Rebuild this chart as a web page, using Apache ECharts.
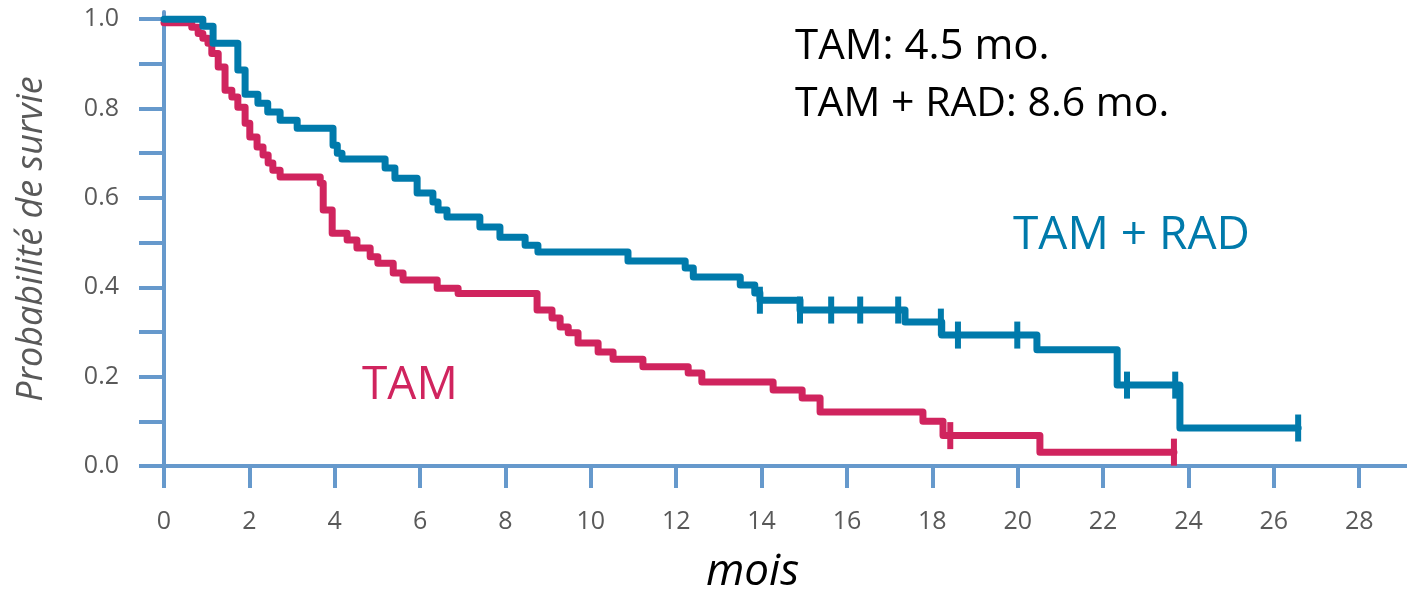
<!DOCTYPE html>
<html>
<head>
<meta charset="utf-8">
<script src="https://cdn.jsdelivr.net/npm/echarts@6/dist/echarts.min.js"></script>
<style>
html,body{margin:0;padding:0;background:#fff;}
#chart{width:1407px;height:594px;}
</style>
</head>
<body>
<div id="chart"></div>
<script>
// ---- data ----
const xTicks = [0,2,4,6,8,10,12,14,16,18,20,22,24,26,28];
const yTicks = [0,0.1,0.2,0.3,0.4,0.5,0.6,0.7,0.8,0.9,1.0];
const yLabels = [0,0.2,0.4,0.6,0.8,1.0];

// TAM + RAD (blue) : step start times and survival after each step
const tamRadTimes  = [0,0.91,1.15,1.73,1.90,2.20,2.43,2.72,3.12,3.96,4.06,4.17,5.18,5.41,5.93,6.30,6.42,6.63,7.40,7.87,8.46,8.76,10.87,12.21,12.40,13.50,13.84,13.96,14.90,17.36,18.22,20.45,22.33,23.80,26.57];
const tamRadValues = [1.0,0.984,0.946,0.886,0.832,0.812,0.792,0.774,0.756,0.718,0.700,0.687,0.667,0.644,0.611,0.591,0.573,0.557,0.535,0.512,0.494,0.479,0.459,0.443,0.423,0.405,0.387,0.371,0.349,0.322,0.293,0.260,0.181,0.085,0.085];
const tamRadCensorTimes  = [13.96,14.90,15.63,16.31,17.20,18.20,18.60,19.99,22.56,23.69,26.57];
const tamRadCensorValues = [0.371,0.349,0.349,0.349,0.349,0.322,0.293,0.293,0.181,0.181,0.085];

// TAM (red)
const tamTimes  = [0,0.65,0.80,0.91,1.03,1.12,1.27,1.43,1.59,1.73,1.90,2.01,2.18,2.32,2.44,2.55,2.72,3.66,3.73,3.94,4.29,4.52,4.83,5.01,5.37,5.60,6.40,6.89,8.74,9.09,9.28,9.47,9.70,10.17,10.52,11.22,12.28,12.60,14.27,14.95,15.37,17.78,18.25,20.52,23.66];
const tamValues = [0.992,0.982,0.968,0.957,0.946,0.923,0.893,0.841,0.826,0.803,0.767,0.736,0.714,0.696,0.678,0.662,0.647,0.633,0.573,0.521,0.506,0.488,0.468,0.454,0.432,0.416,0.398,0.386,0.349,0.331,0.311,0.298,0.275,0.255,0.239,0.222,0.208,0.188,0.170,0.152,0.121,0.100,0.068,0.031,0.031];
const tamCensorTimes  = [18.42,23.66];
const tamCensorValues = [0.068,0.031];

const annotations = ['TAM: 4.5 mo.','TAM + RAD: 8.6 mo.'];
const seriesNames = ['TAM + RAD','TAM'];

// ---- styles ----
const FONT = '"Open Sans", "Noto Sans", sans-serif';
const AXIS = '#6699CC';
const BLUE = '#007AAB';
const RED = '#D0245E';
const LABEL = '#595959';

const zip = (a,b) => a.map((v,i)=>[v,b[i]]);

const chart = echarts.init(document.getElementById('chart'), null, {renderer:'canvas'});
chart.setOption({
  animation:false,
  backgroundColor:'#fff',
  textStyle:{fontFamily:FONT},
  title:[
    {text:annotations[0], left:795, top:26, padding:0, textStyle:{fontFamily:FONT,fontSize:42,fontWeight:'normal',color:'#000'}},
    {text:annotations[1], left:795, top:84, padding:0, textStyle:{fontFamily:FONT,fontSize:41,fontWeight:'normal',color:'#000'}},
    {text:seriesNames[0], left:1013, top:213, padding:0, textStyle:{fontFamily:FONT,fontSize:46,fontWeight:'normal',color:BLUE}},
    {text:seriesNames[1], left:362, top:363, padding:0, textStyle:{fontFamily:FONT,fontSize:46,fontWeight:'normal',color:RED}}
  ],
  grid:{left:150,right:0,top:12,bottom:128,containLabel:false,outerBoundsMode:'none'},
  xAxis:{
    type:'value', min:-0.328, max:29.12,
    axisLine:{show:true,onZero:true,lineStyle:{color:AXIS,width:4}},
    axisTick:{show:true,customValues:xTicks,length:22,lineStyle:{color:AXIS,width:4}},
    axisLabel:{customValues:xTicks,margin:43,fontSize:25,color:LABEL,fontFamily:FONT},
    splitLine:{show:false},
    name:'mois', nameLocation:'middle', nameGap:84,
    nameTextStyle:{fontFamily:FONT,fontSize:44,fontStyle:'italic',color:'#000',padding:[0,52,0,0]}
  },
  yAxis:{
    type:'value', min:0, max:1.016,
    axisLine:{show:true,onZero:true,lineStyle:{color:AXIS,width:4}},
    axisTick:{show:true,customValues:yTicks,length:25,lineStyle:{color:AXIS,width:4}},
    axisLabel:{customValues:yLabels,margin:31,fontSize:25,color:LABEL,fontFamily:FONT,formatter:v=>Number(v).toFixed(1)},
    splitLine:{show:false},
    name:'Probabilité de survie', nameLocation:'middle', nameGap:100, nameRotate:90,
    nameTextStyle:{fontFamily:FONT,fontSize:36,fontStyle:'italic',color:LABEL}
  },
  series:[
    {name:'TAM', type:'line', step:'end', showSymbol:false, data:zip(tamTimes,tamValues),
     lineStyle:{color:RED,width:7,cap:'round',join:'round'}, z:2},
    {name:'TAM + RAD', type:'line', step:'end', showSymbol:false, data:zip(tamRadTimes,tamRadValues),
     lineStyle:{color:BLUE,width:7,cap:'round',join:'round'}, z:3},
    {name:'TAM censor', type:'scatter', symbol:'rect', symbolSize:[6,27], data:zip(tamCensorTimes,tamCensorValues),
     itemStyle:{color:RED,opacity:1}, z:4},
    {name:'TAM + RAD censor', type:'scatter', symbol:'rect', symbolSize:[6,27], data:zip(tamRadCensorTimes,tamRadCensorValues),
     itemStyle:{color:BLUE,opacity:1}, z:4}
  ]
});
</script>
</body>
</html>
